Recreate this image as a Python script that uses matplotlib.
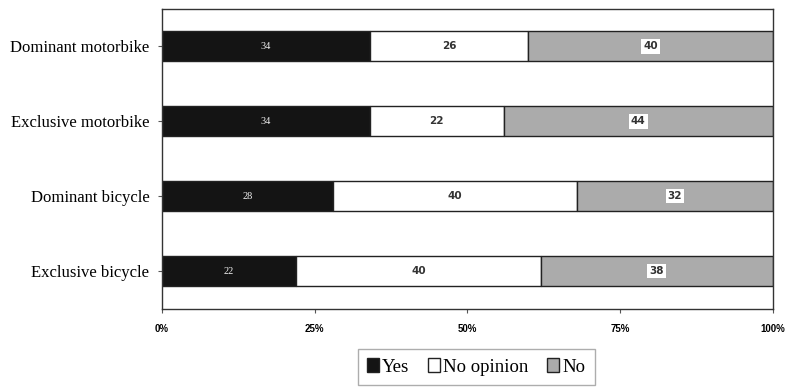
# stacked horizontal bars: share of answers per vehicle-use group

import numpy as np
import matplotlib.pyplot as plt

groups = ['Dominant motorbike', 'Exclusive motorbike', 'Dominant bicycle', 'Exclusive bicycle']
yes = [34, 34, 28, 22]
no_opinion = [26, 22, 40, 40]
no = [40, 44, 32, 38]
xticks = [0, 25, 50, 75, 100]
xtick_labels = ['0%', '25%', '50%', '75%', '100%']

fig = plt.figure(figsize=(7.9, 3.9), dpi=100)
ax = fig.add_axes([0.205, 0.208, 0.773, 0.769])

# first group on top
y = np.arange(len(groups))[::-1]
h = 0.4
yes = np.array(yes)
no_opinion = np.array(no_opinion)
no = np.array(no)

b1 = ax.barh(y, yes, height=h, color='#141414', edgecolor='#222222', linewidth=1, label='Yes')
b2 = ax.barh(y, no_opinion, left=yes, height=h, color='white', edgecolor='#222222', linewidth=1, label='No opinion')
b3 = ax.barh(y, no, left=yes + no_opinion, height=h, color='#ababab', edgecolor='#222222', linewidth=1, label='No')

for yi, a, b, c in zip(y, yes, no_opinion, no):
    ax.text(a / 2, yi, str(a), ha='center', va='center', color='#eeeeee',
            fontsize=7.5, family='Liberation Serif')
    ax.text(a + b / 2, yi, str(b), ha='center', va='center', color='#333333',
            fontsize=7.5, fontweight='bold', family='DejaVu Sans')
    ax.text(a + b + c / 2, yi, str(c), ha='center', va='center', color='#333333',
            fontsize=7.5, fontweight='bold', family='DejaVu Sans',
            bbox=dict(facecolor='white', edgecolor='none', pad=1.5))

ax.set_xlim(0, 100)
ax.set_ylim(-0.5, 3.5)
ax.set_yticks(y)
ax.set_yticklabels(groups, family='Liberation Serif', fontsize=12)
ax.set_xticks(xticks)
ax.set_xticklabels(xtick_labels, family='Liberation Sans', fontsize=7, fontweight='bold')
ax.tick_params(axis='x', length=3, pad=8, direction='out', color='#555555')
ax.tick_params(axis='y', length=3, pad=6, color='#555555')
for s in ax.spines.values():
    s.set_color('#333333')
    s.set_linewidth(1)

leg = fig.legend(handles=[b1, b2, b3], loc='upper center', bbox_to_anchor=(0.603, 0.13),
                 ncol=3, frameon=True, fancybox=False, edgecolor='#999999',
                 prop={'family': 'Liberation Serif', 'size': 13.5},
                 handlelength=0.6, handleheight=0.8, handletextpad=0.2, columnspacing=1.0,
                 borderpad=0.5)

fig.savefig('out.png', dpi=100)
